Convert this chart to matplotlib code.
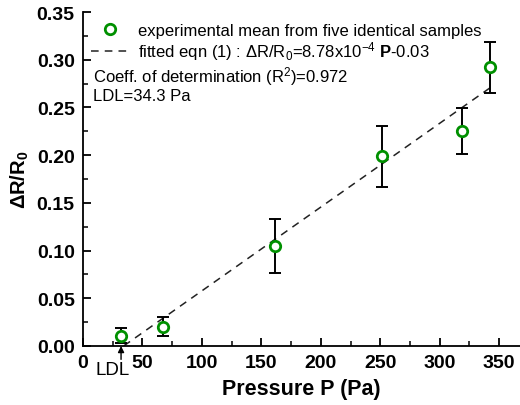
import matplotlib
matplotlib.use("Agg")
import matplotlib.pyplot as plt
import numpy as np

plt.rcParams['font.family'] = ['Liberation Sans', 'DejaVu Sans']
plt.rcParams['mathtext.fontset'] = 'custom'
plt.rcParams['mathtext.rm'] = 'Liberation Sans'
plt.rcParams['mathtext.it'] = 'Liberation Sans:italic'
plt.rcParams['mathtext.bf'] = 'Liberation Sans:bold'

# Data
pressure = [32, 67.5, 161.5, 251.5, 318.5, 342.3]
dR_R0 = [0.011, 0.020, 0.105, 0.199, 0.225, 0.292]
err = [0.008, 0.010, 0.028, 0.032, 0.024, 0.027]
fit_slope = 8.78e-4
fit_intercept = -0.03
fit_range = [34.3, 342.3]
ldl = 32
x_ticks = [0, 50, 100, 150, 200, 250, 300, 350]
y_ticks = [0.00, 0.05, 0.10, 0.15, 0.20, 0.25, 0.30, 0.35]

W, H = 520, 406
fig = plt.figure(figsize=(W / 100, H / 100), dpi=100)
ax = fig.add_axes([83 / W, (H - 347) / H, (W - 83) / W, (347 - 13) / H])

green = '#009000'
fx = np.array(fit_range)
ax.plot(fx, fit_slope * fx + fit_intercept, ls=(0, (5, 4)), color='#222222', lw=1.1,
        label=r'fitted eqn (1) : ΔR/R$_0$=8.78x10$^{-4}$ $\mathbf{P}$-0.03', zorder=2)
ax.errorbar(pressure, dR_R0, yerr=err, fmt='none', ecolor='black', elinewidth=1.4,
            capsize=4.5, capthick=1.4, zorder=3)
ax.plot(pressure, dR_R0, 'o', mfc='white', mec=green, mew=2.0, ms=7.5, ls='none',
        label='experimental mean from five identical samples', zorder=4)

handles, labels = ax.get_legend_handles_labels()
leg = ax.legend(handles[::-1], labels[::-1], loc='upper left', bbox_to_anchor=(0.018, 0.968),
                frameon=False, fontsize=12, handlelength=2.3, handletextpad=0.5,
                borderpad=0, borderaxespad=0, labelspacing=0.1)

ax.text(0.023, 0.811, r'Coeff. of determination (R$^2$)=0.972', transform=ax.transAxes,
        fontsize=12, va='center', ha='left')
ax.text(0.023, 0.749, 'LDL=34.3 Pa', transform=ax.transAxes,
        fontsize=12, va='center', ha='left')

ax.annotate('', xy=(ldl, 0.0), xytext=(ldl, -0.014), annotation_clip=False,
            arrowprops=dict(arrowstyle='-|>', color='black', lw=1.0, mutation_scale=9,
                            shrinkA=0, shrinkB=0))
ax.text(24.5, -0.0245, 'LDL', fontsize=13.5, ha='center', va='center', clip_on=False)

ax.set_xlim(0, 367.5)
ax.set_ylim(0, 0.35)
ax.set_xticks(x_ticks)
ax.set_xticks(np.arange(25, 367, 50), minor=True)
ax.set_yticks(y_ticks)
ax.set_yticks(np.arange(0.025, 0.35, 0.05), minor=True)
ax.set_yticklabels([f'{v:.2f}' for v in y_ticks])
ax.set_xticklabels([str(v) for v in x_ticks])

for s in ['top', 'right']:
    ax.spines[s].set_visible(False)
for s in ['left', 'bottom']:
    ax.spines[s].set_linewidth(1.3)

ax.tick_params(which='major', direction='in', length=6, width=1.3, labelsize=14, pad=6)
ax.tick_params(which='minor', direction='in', length=3.5, width=1.1)
for lbl in ax.get_xticklabels() + ax.get_yticklabels():
    lbl.set_fontweight('bold')

ax.set_xlabel('Pressure P (Pa)', fontsize=15.5, fontweight='bold', labelpad=5)
ax.set_ylabel(r'ΔR/R$_\mathbf{0}$', fontsize=14.5, fontweight='bold', labelpad=4)

fig.savefig('out.png', dpi=100)
